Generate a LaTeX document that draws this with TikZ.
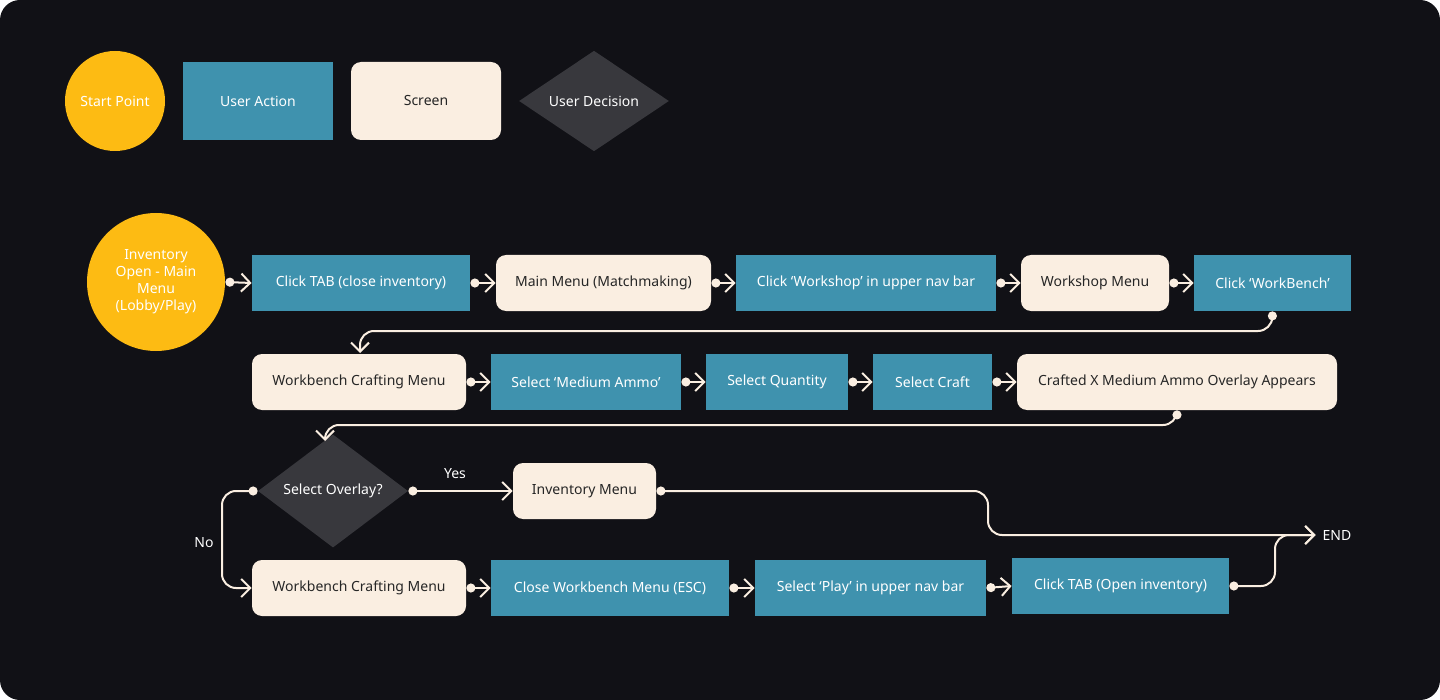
\documentclass[tikz,border=0pt]{standalone}
\usepackage{fontspec}
\setmainfont{Noto Sans}
\usetikzlibrary{shapes.geometric,arrows.meta}
\definecolor{bg}{HTML}{111116}
\definecolor{teal}{HTML}{3F92AE}
\definecolor{cream}{HTML}{FAEEE1}
\definecolor{yel}{HTML}{FDBB13}
\definecolor{dia}{HTML}{38383D}
\begin{document}
\begin{tikzpicture}[x=0.5pt,y=-0.5pt,
  font=\fontsize{7}{8.5}\selectfont,
  act/.style={fill=teal,text=white,inner sep=0,minimum height=28pt},
  scr/.style={fill=cream,text=black!85,rounded corners=5pt,inner sep=0,minimum height=28pt},
  dec/.style={diamond,fill=dia,text=white,inner sep=0,minimum width=75pt,minimum height=43pt},
  st/.style={circle,fill=yel,text=white,font=\fontsize{7}{8.5}\selectfont\bfseries,align=center,inner sep=0},
  con/.style={draw=cream,line width=1pt,rounded corners=7pt,{Circle[length=4.5pt]}-{Straight Barb[length=4.5pt,width=9pt,line width=1pt]}},
  lab/.style={text=white}]
\fill[bg,rounded corners=10pt] (0,0) rectangle (1440,700);
\useasboundingbox (0,0) rectangle (1440,700);
% legend
\node[st,minimum size=50pt] (ls) at (115,101) {Start Point};
\node[act,minimum width=75pt,minimum height=39pt] (la) at (258,101) {User Action};
\node[scr,minimum width=75pt,minimum height=39pt] (lsc) at (426,101) {Screen};
\node[dec] (ld) at (594,101) {User Decision};
% row 1
\node[st,minimum size=69pt] (s) at (156,282) {Inventory\\Open - Main\\Menu\\(Lobby/Play)};
\node[act,minimum width=109pt] (a1) at (361,283) {Click TAB (close inventory)};
\node[scr,minimum width=107.5pt] (b1) at (603.5,283) {Main Menu (Matchmaking)};
\node[act,minimum width=130pt] (a2) at (866,283) {Click ‘Workshop’ in upper nav bar};
\node[scr,minimum width=74pt] (b2) at (1095,283) {Workshop Menu};
\node[act,minimum width=78.5pt] (a3) at (1272.5,283) {Click ‘WorkBench’};
% row 2
\node[scr,minimum width=107pt] (b3) at (359,382) {Workbench Crafting Menu};
\node[act,minimum width=95pt] (a4) at (586,382) {Select ‘Medium Ammo’};
\node[act,minimum width=71pt] (a5) at (777,382) {Select Quantity};
\node[act,minimum width=59.5pt] (a6) at (932.5,382) {Select Craft};
\node[scr,minimum width=160pt] (b4) at (1177,382) {Crafted X Medium Ammo Overlay Appears};
% row 3
\node[dec] (d) at (333,491) {Select Overlay?};
\node[scr,minimum width=71.5pt] (b5) at (584.5,491) {Inventory Menu};
\node[text=white,font=\fontsize{7}{8.5}\selectfont\bfseries] (end) at (1337,535) {END};
% row 4
\node[scr,minimum width=107pt] (b6) at (359,588) {Workbench Crafting Menu};
\node[act,minimum width=119pt] (a7) at (610,588) {Close Workbench Menu (ESC)};
\node[act,minimum width=115.5pt] (a8) at (870.5,588) {Select ‘Play’ in upper nav bar};
\node[act,minimum width=108.5pt] (a9) at (1120.5,586) {Click TAB (Open inventory)};
% connectors
\draw[con] (s.east) -- (a1.west);
\draw[con] (a1.east) -- (b1.west);
\draw[con] (b1.east) -- (a2.west);
\draw[con] (a2.east) -- (b2.west);
\draw[con] (b2.east) -- (a3.west);
\draw[con] (a3.south) -- (1272,331) -- (360,331) -- (360,353);
\draw[con] (b3.east) -- (a4.west);
\draw[con] (a4.east) -- (a5.west);
\draw[con] (a5.east) -- (a6.west);
\draw[con] (a6.east) -- (b4.west);
\draw[con] (b4.south) -- (1177,425) -- (325,425) -- (325,441);
\draw[con] (d.west) -- (222,491) -- (222,588) -- (b6.west);
\draw[con] (d.east) -- (b5.west);
\draw[con] (b5.east) -- (988,491) -- (988,535) -- (end.west);
\draw[con] (a9.east) -- (1275,586) -- (1275,535) -- (end.west);
\draw[con] (b6.east) -- (a7.west);
\draw[con] (a7.east) -- (a8.west);
\draw[con] (a8.east) -- (a9.west);
\node[lab] (yes) at (455,474) {Yes};
\node[lab] (no) at (204,543) {No};
\end{tikzpicture}
\end{document}
